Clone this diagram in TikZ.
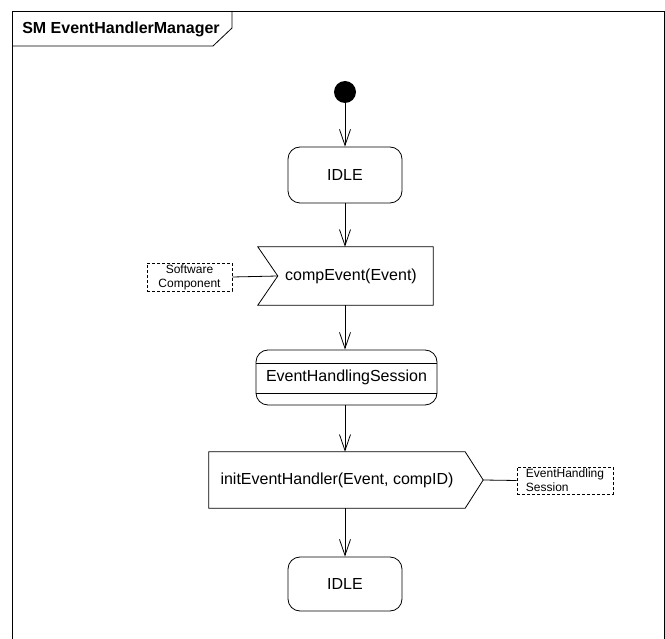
\documentclass[tikz,border=0pt]{standalone}
\usepackage{fontspec}
\setmainfont{Liberation Sans}
\usetikzlibrary{arrows.meta,calc}

\tikzset{
  outline/.style={draw=black, line width=0.8pt},
  statebox/.style={outline, rectangle, rounded corners=12pt, minimum width=114pt,
    minimum height=56pt, inner sep=0pt, font=\fontsize{16}{19}\selectfont},
  shapebody/.style={rectangle, inner sep=0pt, font=\fontsize{16}{19}\selectfont},
  notebox/.style={draw=black, line width=0.6pt, dashed, dash pattern=on 3pt off 2pt,
    rectangle, inner sep=0pt, align=left, font=\fontsize{12}{14}\selectfont},
  flow/.style={line width=0.8pt, -{Straight Barb[length=16pt,width=11pt]}},
  plain/.style={line width=0.8pt},
}

\begin{document}
\begin{tikzpicture}[x=1pt, y=-1pt]
\useasboundingbox (0,0) rectangle (665,639);

% diagram frame with its name tab
\draw[outline] (12,660) -- (12,11) -- (664,11) -- (664,660);
\draw[outline] (12,46) -- (213,46) -- (232,28) -- (232,11);
\node[font=\bfseries\fontsize{16}{19}\selectfont] (title) at (121,29) {SM EventHandlerManager};

% initial pseudo-state
\node[circle, fill=black, minimum size=22pt, inner sep=0pt] (init) at (345,92) {};

% first idle state
\node[statebox] (idle1) at (345,175) {IDLE};

% signal receipt
\node[shapebody, minimum width=175pt, minimum height=58pt] (recv) at (345.5,276)
  {\hspace*{11pt}compEvent(Event)};
\coordinate (recvnotch) at ($(recv.west)+(20,0)$);
\draw[outline] (recv.north west) -- (recv.north east) -- (recv.south east)
  -- (recv.south west) -- (recvnotch) -- cycle;

% composite state with compartments
\node[statebox, minimum width=181pt, minimum height=55pt] (session) at (346.5,377.5)
  {EventHandlingSession};
\draw[plain] ($(session.north west)+(0,14)$) -- ($(session.north east)+(0,14)$);
\draw[plain] ($(session.south west)+(0,-12)$) -- ($(session.south east)+(0,-12)$);

% signal sending
\node[shapebody, minimum width=256pt, minimum height=56pt] (send) at (337,480)
  {initEventHandler(Event, compID)};
\coordinate (sendtip) at ($(send.east)+(18,0)$);
\draw[outline] (send.north west) -- (send.north east) -- (sendtip)
  -- (send.south east) -- (send.south west) -- cycle;

% final idle state
\node[statebox, minimum height=54pt] (idle2) at (345,584) {IDLE};

% notes attached to the signals
\node[notebox, minimum width=85pt, minimum height=28pt, align=center] (soft) at (189.5,277)
  {Software\\Component};
\node[notebox, minimum width=96pt, minimum height=27pt] (ehs) at (565,480.5)
  {EventHandling\\Session};
\draw[plain] (soft.east) -- (recvnotch);
\draw[plain] (sendtip) -- (ehs.west);

% transitions
\draw[flow] (init.south) -- (idle1.north);
\draw[flow] (idle1.south) -- (idle1.south |- recv.north);
\draw[flow] (idle1.south |- recv.south) -- (idle1.south |- session.north);
\draw[flow] (idle1.south |- session.south) -- (idle1.south |- send.north);
\draw[flow] (idle1.south |- send.south) -- (idle2.north);
\end{tikzpicture}
\end{document}
